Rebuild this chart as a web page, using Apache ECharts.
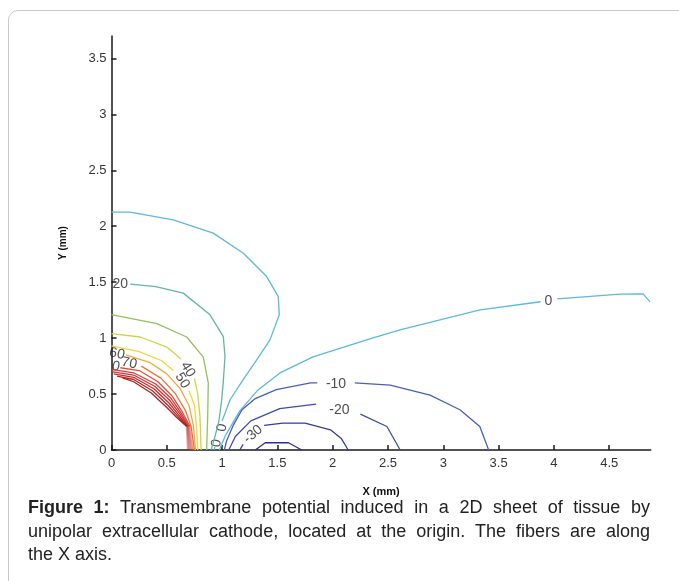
<!DOCTYPE html>
<html>
<head>
<meta charset="utf-8">
<script src="https://cdn.jsdelivr.net/npm/echarts@6/dist/echarts.min.js"></script>
<style>
  html, body { margin: 0; padding: 0; background: #fff; width: 679px; height: 581px; overflow: hidden; }
  #card { position: absolute; left: 8px; top: 10px; width: 720px; height: 640px; border: 1px solid #c9c9c9; border-radius: 10px; box-sizing: border-box; }
  #chart { position: absolute; left: 0; top: 0; width: 679px; height: 581px; }
  #caption { position: absolute; left: 28px; top: 496px; width: 622px; font-family: "Liberation Sans", Arial, sans-serif; font-size: 18px; line-height: 23.5px; color: #222; }
  #caption div { white-space: nowrap; }
  #caption .j { text-align: justify; text-align-last: justify; }
</style>
</head>
<body>
<div id="card"></div>
<div id="chart"></div>
<div id="caption">
  <div class="j"><b>Figure 1:</b> Transmembrane potential induced in a 2D sheet of tissue by</div>
  <div class="j">unipolar extracellular cathode, located at the origin. The fibers are along</div>
  <div>the X axis.</div>
</div>
<script>
// ---------- tick values ----------
const xTicks = [0, 0.5, 1, 1.5, 2, 2.5, 3, 3.5, 4, 4.5];
const yTicks = [0, 0.5, 1, 1.5, 2, 2.5, 3, 3.5];
const xMax = 4.875;
const yMax = 3.7;

// ---------- contour lines (x mm, y mm), split where labels sit ----------
const c0Upper = [[0,2.126],[0.167,2.126],[0.559,2.057],[0.92,1.938],[1.192,1.759],[1.403,1.55],[1.508,1.371],[1.517,1.208],[1.433,0.984],[1.313,0.805],[1.189,0.626],[1.071,0.447],[1.0,0.26]];
const c0UpperEnd = [[0.935,0.03],[0.927,0]];
const c0LowerA = [[0.975,0],[1.03,0.13],[1.16,0.35],[1.325,0.537],[1.523,0.689],[1.822,0.832],[2.365,1.002],[2.609,1.073],[3.332,1.252],[3.88,1.325]];
const c0LowerB = [[4.03,1.35],[4.598,1.393],[4.806,1.395],[4.869,1.324]];
const c20 = [[0.17,1.482],[0.4,1.46],[0.649,1.402],[0.891,1.208],[1.011,1.013],[1.026,0.835],[1.01,0.6],[0.996,0.447],[0.97,0.25],[0.93,0.1],[0.9,0]];
const c30 = [[0,1.21],[0.41,1.13],[0.68,1.01],[0.83,0.83],[0.875,0.6],[0.87,0.3],[0.86,0]];
const c40A = [[0,1.04],[0.26,1.01],[0.5,0.92],[0.63,0.81]];
const c40B = [[0.75,0.64],[0.78,0.5],[0.8,0.3],[0.81,0]];
const c50A = [[0,0.93],[0.25,0.88],[0.45,0.8],[0.56,0.71]];
const c50B = [[0.70,0.53],[0.75,0.4],[0.77,0.2],[0.78,0]];
const c60 = [[0.13,0.85],[0.35,0.78],[0.5,0.68],[0.62,0.55],[0.7,0.4],[0.74,0.22],[0.76,0]];
const c70 = [[0.27,0.75],[0.45,0.64],[0.58,0.5],[0.67,0.35],[0.72,0.21],[0.75,0]];
const c80 = [[0.08,0.735],[0.25,0.71],[0.42,0.61],[0.55,0.48],[0.64,0.34],[0.71,0.21]];
const c90 = [[0,0.72],[0.2,0.69],[0.4,0.59],[0.54,0.46],[0.63,0.33],[0.70,0.21]];
const c100 = [[0,0.70],[0.2,0.67],[0.39,0.57],[0.53,0.44],[0.62,0.32],[0.695,0.21]];
const c110 = [[0.02,0.68],[0.2,0.65],[0.38,0.55],[0.52,0.42],[0.61,0.31],[0.69,0.21]];
const c120 = [[0.05,0.66],[0.2,0.63],[0.37,0.53],[0.51,0.4],[0.6,0.3],[0.685,0.21]];
const c130 = [[0.1,0.645],[0.2,0.61],[0.36,0.51],[0.5,0.38],[0.59,0.29],[0.68,0.21]];
// pale ends of the dense contours below y = 0.21
const c80Low = [[0.71,0.21],[0.74,0]];
const c90Low = [[0.70,0.21],[0.73,0]];
const c100Low = [[0.695,0.21],[0.72,0]];
const c110Low = [[0.69,0.21],[0.71,0]];
const c120Low = [[0.685,0.21],[0.70,0]];
const c130Low = [[0.68,0.21],[0.69,0]];
const cm10A = [[1.02,0],[1.04,0.08],[1.1,0.22],[1.18,0.36],[1.3,0.46],[1.49,0.54],[1.8,0.6],[1.86,0.6]];
const cm10B = [[2.2,0.6],[2.52,0.58],[2.88,0.49],[3.15,0.36],[3.33,0.21],[3.41,0]];
const cm20A = [[1.06,0],[1.12,0.12],[1.26,0.26],[1.52,0.37],[1.85,0.41]];
const cm20B = [[2.25,0.32],[2.49,0.21],[2.61,0]];
const cm30A = [[1.16,0],[1.19,0.05]];
const cm30B = [[1.38,0.22],[1.55,0.24],[1.75,0.24],[1.98,0.18],[2.08,0.1],[2.14,0]];
const cm40 = [[1.3,0],[1.39,0.065],[1.6,0.065],[1.72,0]];

// ---------- contour labels ----------
const labelTexts = ['20', '60', '70', '0', '40', '50', '-10', '-20', '-30', '0', '0', '0'];
const labelPoints = [[0.08,1.48],[0.05,0.86],[0.16,0.775],[0.04,0.745],[0.69,0.72],[0.64,0.62],[2.03,0.59],[2.06,0.36],[1.28,0.14],[3.95,1.333],[1.0,0.2],[0.95,0.06]];
const labelRotations = [0, -12, -12, -12, -58, -58, 0, 0, 40, 0, 80, 80];

// ---------- styling ----------
const colors = {
  c0: '#5cb9d9', c20: '#62b79c', c30: '#8fc25e', c40: '#cdd63f', c50: '#f3d63a',
  c60: '#f4a83a', c70: '#ee7538', c80: '#e44c3a', c90: '#d93b38', c100: '#cc3333',
  c110: '#bf2d2d', c120: '#b12828', c130: '#a42222',
  m10: '#4c5fb2', m20: '#3e4da3', m30: '#333f96', m40: '#2a3189'
};

const lines = [
  [c0Upper,'c0'],[c0UpperEnd,'c0'],[c0LowerA,'c0'],[c0LowerB,'c0'],[c20,'c20'],[c30,'c30'],
  [c40A,'c40'],[c40B,'c40'],[c50A,'c50'],[c50B,'c50'],[c60,'c60'],[c70,'c70'],
  [c80,'c80'],[c90,'c90'],[c100,'c100'],[c110,'c110'],[c120,'c120'],[c130,'c130'],
  [cm10A,'m10'],[cm10B,'m10'],[cm20A,'m20'],[cm20B,'m20'],[cm30A,'m30'],[cm30B,'m30'],[cm40,'m40']
];
const paleLines = [[c80Low,'c80'],[c90Low,'c90'],[c100Low,'c100'],[c110Low,'c110'],[c120Low,'c120'],[c130Low,'c130']];

const series = [];
lines.forEach(([pts, key]) => {
  series.push({ type: 'line', data: pts, showSymbol: false, silent: true, animation: false,
    lineStyle: { color: colors[key], width: 1.3 } });
});
paleLines.forEach(([pts, key]) => {
  series.push({ type: 'line', data: pts, showSymbol: false, silent: true, animation: false,
    lineStyle: { color: colors[key], width: 2, opacity: 0.35 } });
});
labelTexts.forEach((t, i) => {
  series.push({ type: 'scatter', symbolSize: 0, silent: true, animation: false,
    data: [labelPoints[i]],
    label: { show: true, position: 'inside', formatter: t, rotate: labelRotations[i],
      fontFamily: 'Liberation Sans', fontSize: 14, color: '#222' } });
});

const chart = echarts.init(document.getElementById('chart'), null, { renderer: 'canvas' });
chart.setOption({
  backgroundColor: 'transparent',
  animation: false,
  grid: { left: 111.5, right: 28.3, top: 36, bottom: 131, containLabel: false },
  xAxis: {
    type: 'value', min: 0, max: xMax,
    name: 'X (mm)', nameLocation: 'middle', nameGap: 36,
    nameTextStyle: { fontFamily: 'Liberation Sans', fontWeight: 'bold', fontSize: 11, color: '#111' },
    axisLine: { lineStyle: { color: '#1a1a1a', width: 1.5 } },
    axisTick: { inside: true, length: 5, customValues: xTicks, lineStyle: { color: '#1a1a1a', width: 1.5 } },
    axisLabel: { customValues: xTicks, margin: 7, fontFamily: 'Liberation Sans', fontSize: 13, color: '#333' },
    splitLine: { show: false }
  },
  yAxis: {
    type: 'value', min: 0, max: yMax,
    name: 'Y (mm)', nameLocation: 'middle', nameGap: 43,
    nameTextStyle: { fontFamily: 'Liberation Sans', fontWeight: 'bold', fontSize: 10, color: '#111' },
    axisLine: { show: true, lineStyle: { color: '#1a1a1a', width: 1.5 } },
    axisTick: { show: true, inside: true, length: 5, customValues: yTicks, lineStyle: { color: '#1a1a1a', width: 1.5 } },
    axisLabel: { customValues: yTicks, margin: 5, fontFamily: 'Liberation Sans', fontSize: 13, color: '#333' },
    splitLine: { show: false }
  },
  series: series
});
</script>
</body>
</html>
